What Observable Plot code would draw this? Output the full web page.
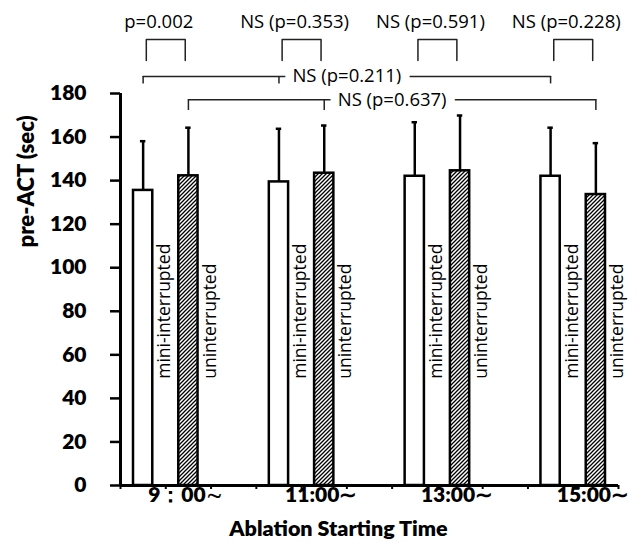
<!DOCTYPE html>
<html>
<head>
<meta charset="utf-8">
<script src="https://cdn.jsdelivr.net/npm/d3@7"></script>
<script src="https://cdn.jsdelivr.net/npm/@observablehq/plot@0.6"></script>
<style>
  html, body { margin: 0; padding: 0; background: white; }
</style>
</head>
<body>
<div id="chart"></div>
<script>
// ---- data ----
const times = ["9：00∼", "11:00∼", "13:00∼", "15:00∼"];
const series = ["mini-interrupted", "uninterrupted"];
const miniMean = [135.5, 139.4, 142.0, 142.0];
const miniSD   = [22.6, 24.4, 24.8, 22.3];
const uninMean = [142.2, 143.4, 144.5, 133.6];
const uninSD   = [22.1, 21.9, 25.4, 23.6];
const pairP    = ["p=0.002", "NS (p=0.353)", "NS (p=0.591)", "NS (p=0.228)"];
const acrossP  = ["NS (p=0.211)", "NS (p=0.637)"];
const acrossGroups = [0, 1, 3];
const yTicks = [0, 20, 40, 60, 80, 100, 120, 140, 160, 180];
const xTitle = "Ablation Starting Time";
const yTitle = "pre-ACT (sec)";

// ---- derived table ----
const perGroup = series.length + 1;           // two bars + one empty slot
const nSlots = times.length * perGroup - 1;   // 11 category slots
const slot = (i, j) => i * perGroup + j;
const means = [miniMean, uninMean];
const sds = [miniSD, uninSD];
const rows = times.flatMap((t, i) => series.map((s, j) => ({
  time: t, series: s, j, mean: means[j][i], sd: sds[j][i], slot: slot(i, j)
})));

// annotation levels (data units)
const pairTop = 204.8, pairLeg = 195.2, pairText = 213.0;
const acrossLine = [187.8, 177.1], acrossLeg = [184.4, 172.2];

const pairBrackets = times.flatMap((t, i) => {
  const L = slot(i, 0) + 0.57, R = slot(i, 1) + 0.43;
  return [
    {k: i, x: L, y: pairLeg}, {k: i, x: L, y: pairTop},
    {k: i, x: R, y: pairTop}, {k: i, x: R, y: pairLeg}
  ];
});
const acrossTicks = acrossP.flatMap((p, j) => acrossGroups.map(g => ({j, x: slot(g, j) + 0.5})));
const acrossLines = acrossP.flatMap((p, j) => [
  {j, x: slot(acrossGroups[0], j) + 0.5, y: acrossLine[j]},
  {j, x: slot(acrossGroups[acrossGroups.length - 1], j) + 0.5, y: acrossLine[j]}
]);
const acrossLabels = acrossP.map((p, j) => ({
  p, y: acrossLine[j],
  x: (slot(acrossGroups[0], j) + slot(acrossGroups[acrossGroups.length - 1], j)) / 2 + 0.5
}));

const bold = {fontFamily: "Lato", fontWeight: 800};
const reg = {fontFamily: "Open Sans"};

const svg = Plot.plot({
  width: 638,
  height: 546,
  marginLeft: 120,
  marginRight: 20,
  marginTop: 93,
  marginBottom: 61,
  style: {background: "white", color: "black", overflow: "visible"},
  x: {type: "linear", domain: [0, nSlots]},
  y: {domain: [0, 180]},
  marks: [
    // bars
    Plot.rect(rows.filter(d => d.j === 0), {
      x1: "slot", x2: d => d.slot + 1, y1: 0, y2: "mean",
      insetLeft: 13, insetRight: 13, fill: "white", stroke: "black", strokeWidth: 2.5
    }),
    Plot.rect(rows.filter(d => d.j === 1), {
      x1: "slot", x2: d => d.slot + 1, y1: 0, y2: "mean",
      insetLeft: 13, insetRight: 13, fill: "url(#hatch)", stroke: "black", strokeWidth: 2.5
    }),
    // error bars
    Plot.ruleX(rows, {x: d => d.slot + 0.5, y1: "mean", y2: d => d.mean + d.sd, strokeWidth: 2.5}),
    Plot.ruleY(rows, {y: d => d.mean + d.sd, x1: d => d.slot + 0.44, x2: d => d.slot + 0.56, strokeWidth: 2.5}),
    // series labels on bars
    Plot.text(rows, {
      x: d => d.slot + 0.5, y: 49, text: "series", rotate: -90, textAnchor: "start",
      dx: 21.5, fontSize: 17.5, ...reg, fill: "black"
    }),
    // axes
    Plot.ruleY([0], {strokeWidth: 3}),
    Plot.ruleX([0], {strokeWidth: 3}),
    Plot.axisY({
      ticks: yTicks, tickSize: 10, tickPadding: 24, strokeWidth: 2.5,
      fontSize: 21, ...bold, label: null
    }),
    Plot.axisX({
      ticks: d3.range(0, nSlots + 1), tickSize: 4, strokeWidth: 2,
      tickFormat: () => "", label: null
    }),
    Plot.text(times, {
      x: (d, i) => slot(i, 1) + 0.5, y: 0, dy: 10, dx: -3, text: d => d,
      fontSize: 21, ...bold, fill: "black"
    }),
    Plot.text([xTitle], {frameAnchor: "bottom", dy: 50, dx: -31, fontSize: 21.5, ...bold, fill: "black"}),
    Plot.text([yTitle], {frameAnchor: "left", dx: -94, dy: -42, rotate: -90, fontSize: 22, ...bold, fill: "black"}),
    // across-time comparison brackets
    Plot.line(acrossLines, {x: "x", y: "y", z: "j", stroke: "#222", strokeWidth: 1.5}),
    Plot.ruleX(acrossTicks, {x: "x", y1: d => acrossLeg[d.j], y2: d => acrossLine[d.j], stroke: "#222", strokeWidth: 1.5}),
    Plot.text(acrossLabels, {
      x: "x", y: "y", text: "p", fontSize: 18.5, ...reg, fill: "black",
      stroke: "white", strokeWidth: 18, paintOrder: "stroke"
    }),
    // pairwise brackets
    Plot.line(pairBrackets, {x: "x", y: "y", z: "k", stroke: "#222", strokeWidth: 1.5}),
    Plot.text(pairP, {
      x: (d, i) => slot(i, 0) + 1, y: pairText, text: d => d, dx: -7,
      fontSize: 18.5, ...reg, fill: "black"
    })
  ]
});

const defs = d3.select(svg).insert("defs", ":first-child");
const pat = defs.append("pattern")
  .attr("id", "hatch")
  .attr("patternUnits", "userSpaceOnUse")
  .attr("width", 4).attr("height", 4);
pat.append("rect").attr("width", 4).attr("height", 4).attr("fill", "white");
pat.append("path")
  .attr("d", "M-1,1 L1,-1 M0,4 L4,0 M3,5 L5,3")
  .attr("stroke", "black").attr("stroke-width", 1.3);

document.getElementById("chart").appendChild(svg);
</script>
</body>
</html>
